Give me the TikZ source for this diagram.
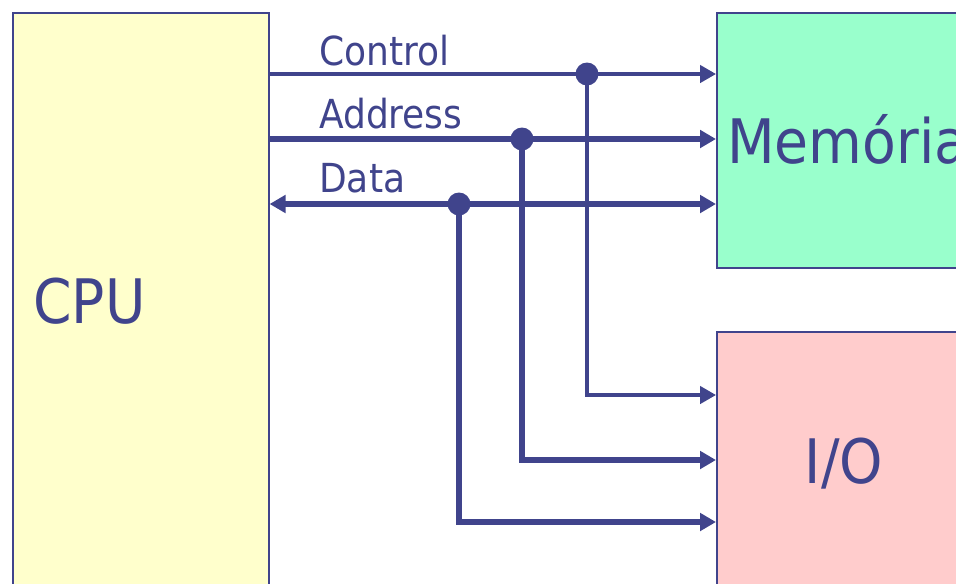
\documentclass[tikz,border=0pt]{standalone}
\usepackage{fontspec}
\setmainfont{DejaVu Sans Condensed}
\usetikzlibrary{arrows.meta}
\definecolor{busblue}{RGB}{64,68,140}
\definecolor{cpufill}{RGB}{255,255,204}
\definecolor{memfill}{RGB}{153,255,204}
\definecolor{iofill}{RGB}{255,204,204}
\tikzset{
  box/.style={draw=busblue, line width=1.2pt, inner sep=0, anchor=north west},
  big/.style={text=busblue, inner sep=0, font=\fontsize{46}{50}\selectfont},
  lbl/.style={text=busblue, inner sep=0, font=\fontsize{30}{34}\selectfont},
  tip/.style={-{Triangle[length=12pt,width=13pt]}},
  thin/.style={draw=busblue, line width=2.6pt},
  thick/.style={draw=busblue, line width=4.1pt},
}

\begin{document}
\begin{tikzpicture}[x=0.75pt, y=-0.75pt]

\useasboundingbox (0,0) rectangle (956,583);
\clip (0,0) rectangle (956,583);

% the three units
\node[box, fill=cpufill, minimum width=192pt, minimum height=441pt] (cpu) at (12,12) {};
\node[box, fill=memfill, minimum width=198pt, minimum height=191.25pt] (mem) at (716,12) {};
\node[box, fill=iofill, minimum width=198pt, minimum height=201.75pt] (io) at (716,331) {};

\node[big, anchor=base west] (cpulbl) at (33,323) {CPU};
\node[big, anchor=base west] (memlbl) at (727,163) {Memória};
\node[big, anchor=base] (iolbl) at (844,483) {I/O};

% junctions and ends at I/O
\coordinate (ctrldot) at (587,74);
\coordinate (addrdot) at (522,139);
\coordinate (datadot) at (459,204);
\coordinate (ctrlio) at (716,395);
\coordinate (addrio) at (716,460);
\coordinate (dataio) at (716,522);

% buses
\draw[thin, tip] (cpu.east |- ctrldot) -- (mem.west |- ctrldot);
\draw[thick, tip] (cpu.east |- addrdot) -- (mem.west |- addrdot);
\draw[thick, {Triangle[length=12pt,width=13pt]}-{Triangle[length=12pt,width=13pt]}] (cpu.east |- datadot) -- (mem.west |- datadot);

\draw[thin, tip] (ctrldot) |- (ctrlio);
\draw[thick, tip] (addrdot) |- (addrio);
\draw[thick, tip] (datadot) |- (dataio);

\fill[busblue] (ctrldot) circle[radius=8.6pt];
\fill[busblue] (addrdot) circle[radius=8.6pt];
\fill[busblue] (datadot) circle[radius=8.6pt];

\node[lbl, anchor=base west] (ctrllbl) at (319,65) {Control};
\node[lbl, anchor=base west] (addrlbl) at (319,128) {Address};
\node[lbl, anchor=base west] (datalbl) at (319,192) {Data};

\end{tikzpicture}
\end{document}
